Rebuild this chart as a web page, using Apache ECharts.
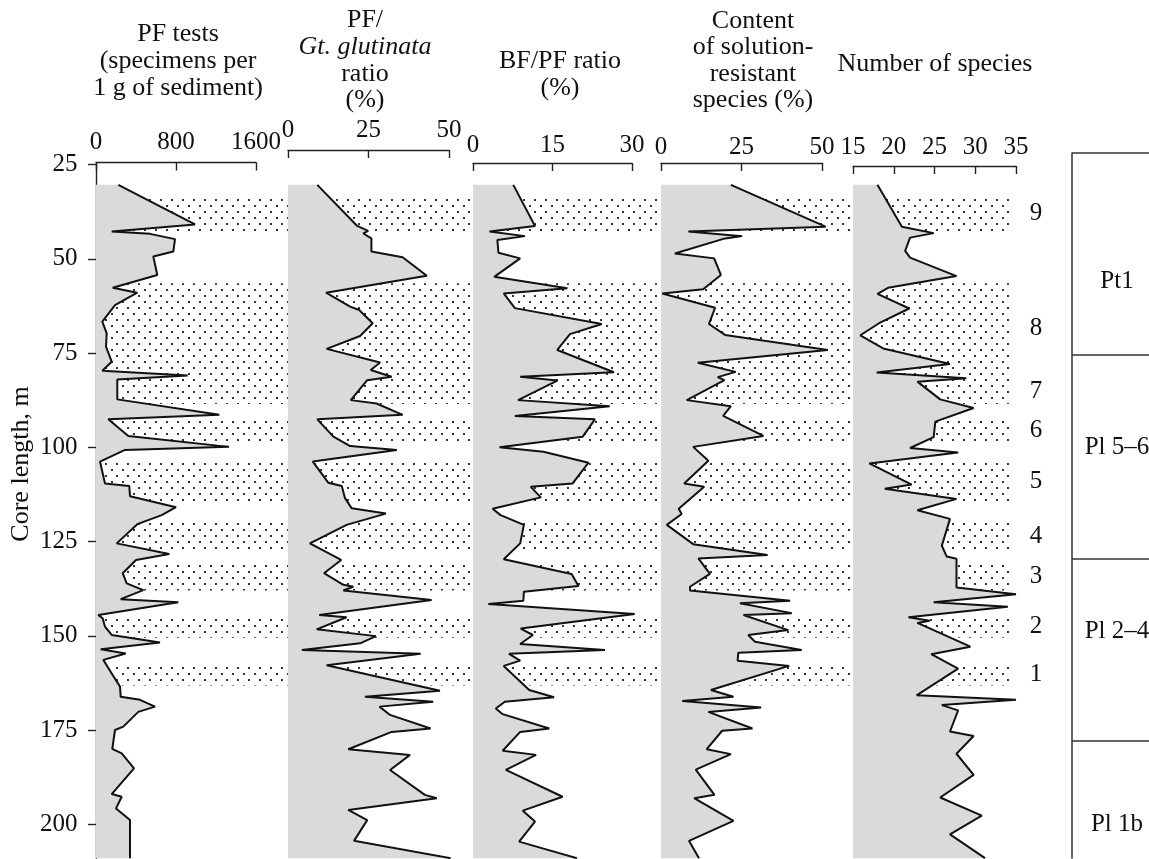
<!DOCTYPE html>
<html><head><meta charset="utf-8">
<script src="https://cdn.jsdelivr.net/npm/echarts@6/dist/echarts.min.js"></script>
<style>html,body{margin:0;padding:0;background:#fff}#c{width:1149px;height:859px}</style>
</head><body><div id="c"></div>
<script>
// ---------------- DATA ----------------
const yTicks = [25, 50, 75, 100, 125, 150, 175, 200];
const depthRange = [25, 209];

const pfTicks = [0, 800, 1600];
const pfDepth = [30.4,40.9,42.8,43.4,44.8,48.1,49.4,54.3,57.7,59.0,62.3,66.7,69.8,73.3,77.3,79.7,81.0,82.0,87.3,91.4,92.6,97.0,99.9,100.7,103.8,109.6,110.3,113.0,115.9,118.0,120.4,125.5,128.3,129.9,133.4,136.1,137.9,140.3,141.1,144.5,145.4,147.6,149.8,151.8,153.6,154.7,156.4,160.0,163.5,166.2,167.0,168.8,170.2,174.1,175.0,180.0,181.2,185.2,192.0,192.7,195.8,198.9,209];
const pfValue = [223,990,157,540,790,773,573,613,167,413,190,63,107,100,157,63,917,213,213,1233,123,323,1330,290,40,90,333,340,800,657,413,207,733,400,267,307,473,247,823,23,67,90,157,640,47,297,73,157,240,247,440,590,423,273,190,163,257,380,157,257,200,340,340];

const gtTicks = [0, 25, 50];
const gtDepth = [30.4,41.3,42.6,43.3,44.6,48.1,49.6,54.5,59.0,62.7,63.6,67.1,70.5,73.9,77.5,79.5,81.3,82.2,87.5,88.4,91.4,92.6,97.2,99.7,100.7,103.8,109.4,110.3,113.5,116.2,117.6,120.6,125.5,129.9,133.4,136.5,137.0,138.0,140.5,144.5,145.1,148.3,150.1,152.0,153.8,154.8,157.8,164.6,166.2,167.5,168.8,171.0,174.6,175.5,180.1,181.6,185.6,192.2,193.1,196.2,198.9,204.4,209];
const gtValue = [9.1,21.5,24.9,23.4,25.9,25.9,35.6,43.1,11.8,19.3,22.1,26.3,22.4,12.0,28.6,25.7,32.2,24.6,19.5,27.5,35.6,9.1,14.1,19.3,33.8,7.7,12.5,16.7,17.7,19.8,30.4,18.2,6.8,16.5,11.2,17.2,20.3,17.2,44.6,9.7,18.2,8.9,27.3,22.4,4.3,41.2,12.0,47.2,23.9,45.1,28.4,31.7,44.3,32.2,18.7,37.9,31.7,42.5,46.2,18.7,24.6,20.5,50.5];

const bpTicks = [0, 15, 30];
const bpDepth = [30.4,41.3,42.8,44.0,45.0,48.4,49.9,54.8,57.8,59.2,63.1,67.3,70.0,74.2,80.1,81.3,82.3,87.5,89.1,91.7,92.6,97.2,100.0,101.2,104.1,109.6,110.5,113.3,116.3,118.0,120.6,125.5,129.7,133.6,136.8,138.3,140.7,141.6,144.2,148.1,149.8,152.2,153.8,154.8,156.6,158.0,164.4,166.3,167.5,169.3,170.8,174.6,175.5,180.5,181.6,185.6,192.7,196.4,199.3,204.6,209];
const bpValue = [7.6,11.7,3.1,9.8,4.6,4.8,8.9,4.0,17.8,5.8,7.9,24.3,18.3,15.9,26.6,8.9,15.9,8.5,25.8,7.9,23.0,20.7,5.0,13.3,21.8,18.8,10.9,12.8,3.7,5.2,9.6,8.9,5.8,18.6,19.9,9.6,9.5,2.9,30.5,9.0,11.3,8.9,24.9,6.8,8.9,5.8,10.6,15.3,6.0,4.3,5.6,14.4,8.9,5.6,11.9,6.2,16.9,9.4,11.7,8.7,19.6];

const srTicks = [0, 25, 50];
const srDepth = [30.4,41.5,42.8,44.0,44.6,48.6,49.9,54.3,58.1,59.2,63.0,67.3,70.2,74.2,77.6,80.0,81.4,82.2,87.5,89.1,91.7,97.0,99.9,103.6,109.6,110.5,116.3,117.7,120.6,125.7,128.6,129.5,133.6,137.0,138.0,140.7,141.4,144.0,144.5,148.5,149.8,151.6,153.8,154.5,156.6,158.0,164.4,166.2,167.3,169.0,170.2,174.6,175.2,180.1,181.4,185.5,192.2,193.1,199.1,204.4,209];
const srValue = [21.7,51.1,8.5,25.2,19.9,4.3,16.5,18.6,13.1,0.4,16.8,14.9,19.9,51.8,11.4,23.2,17.6,19.7,8.0,21.7,19.3,31.8,10.0,14.7,7.2,13.4,5.5,6.4,1.8,10.0,33.1,11.6,15.2,9.0,9.0,40.1,24.5,40.6,25.6,39.5,27.1,29.2,43.7,24.0,23.8,39.8,15.5,22.5,6.6,31.1,14.7,28.4,19.0,14.2,21.7,10.8,16.6,10.3,22.5,8.7,11.8];

const spTicks = [15, 20, 25, 30, 35];
const spDepth = [30.4,41.5,43.2,44.4,47.9,49.7,54.6,57.7,59.3,63.2,67.1,70.3,73.8,77.9,80.2,81.7,82.6,87.3,89.6,93.2,97.3,100.2,101.4,104.3,109.9,111.0,113.7,116.7,119.0,126.1,129.0,129.6,137.2,139.0,141.1,142.3,145.1,146.0,146.6,152.9,154.9,158.7,165.8,167.0,168.4,169.8,175.4,176.6,181.3,186.9,192.9,197.7,202.7,209];
const spValue = [18.0,21.0,24.9,22.0,21.4,22.0,27.7,19.3,18.0,21.9,18.2,15.9,18.7,26.9,17.9,28.9,22.9,25.7,29.8,25.1,24.9,22.0,27.9,17.0,22.2,18.9,27.7,22.9,26.9,25.9,26.5,27.7,27.7,35.0,24.9,34.0,21.8,24.4,22.9,29.4,24.6,27.9,22.8,35.0,25.9,27.9,26.9,29.8,27.7,29.8,25.7,30.8,26.9,31.2];

// stippled intervals (depth from, to) and their numbers
const bands = [[33.1,42.8],[56.5,88.5],[92.2,99.0],[103.4,114.8],[119.8,127.5],[130.7,138.0],[144.5,150.5],[157.2,163.2]];
const bandNames = ['9','8','7','6','5','4','3','2','1'];
const bandNameDepth = [38, 68.6, 85.3, 95.6, 109, 123.6, 134.3, 147.5, 160.2];

// zones
const zoneBounds = [22, 75.5, 129.6, 177.8];
const zoneNames = ['Pt1', 'Pl 5–6', 'Pl 2–4', 'Pl 1b'];
const zoneNameDepth = [56, 100, 149, 200];

// ---------------- LAYOUT ----------------
const FONT = '"Liberation Serif", "Times New Roman", serif';
const TXT = '#111';
const Y0 = 164.5, PX = 3.77;
const H = (depthRange[1] - depthRange[0]) * PX;

const pc = document.createElement('canvas');
pc.width = 11; pc.height = 12;
const g = pc.getContext('2d');
g.fillStyle = '#333';
g.fillRect(1, 1, 2, 2);
g.fillRect(6, 7, 2, 2);

const panels = [
  {d: pfDepth, v: pfValue, t: pfTicks, left: 96, width: 160, offset: 2, margin: 8},
  {d: gtDepth, v: gtValue, t: gtTicks, left: 288, width: 161, offset: 14.5, margin: 7.5},
  {d: bpDepth, v: bpValue, t: bpTicks, left: 473, width: 159, offset: 1.5, margin: 5.5},
  {d: srDepth, v: srValue, t: srTicks, left: 661, width: 161, offset: 1.5, margin: 3.5},
  {d: spDepth, v: spValue, t: spTicks, left: 853, width: 163, offset: -1.5, margin: 6.5}
];

const grid = [{left: 96, top: Y0, width: 964, height: H}];
const xAxis = [{gridIndex: 0, type: 'value', min: 0, max: 964, show: false}];
const yAxis = [{
  gridIndex: 0, type: 'value', min: depthRange[0], max: depthRange[1], inverse: true, interval: 25,
  axisLine: {show: true, lineStyle: {color: '#222', width: 1.4}},
  axisTick: {show: true, length: 8, customValues: yTicks, lineStyle: {color: '#222', width: 1.4}},
  axisLabel: {margin: 18.5, fontSize: 25, fontFamily: FONT, color: TXT, customValues: yTicks,
    formatter: v => yTicks.indexOf(v) >= 0 ? String(v) : ''},
  splitLine: {show: false}
}];
const series = [{
  type: 'scatter', xAxisIndex: 0, yAxisIndex: 0, z: 1, silent: true, symbolSize: 0,
  itemStyle: {opacity: 1},
  data: bandNames.map((n, i) => ({name: n, value: [940, bandNameDepth[i]]})),
  label: {show: true, position: 'inside', formatter: '{b}', fontSize: 25, fontFamily: FONT, color: TXT, opacity: 1},
  markArea: {
    silent: true,
    itemStyle: {color: {image: pc, repeat: 'repeat'}, opacity: 1},
    data: bands.map(b => [{xAxis: 0, yAxis: b[0]}, {xAxis: 914, yAxis: b[1]}])
  }
}];

panels.forEach((p, i) => {
  const gi = i + 1;
  grid.push({left: p.left, top: Y0, width: p.width, height: H});
  xAxis.push({
    gridIndex: gi, type: 'value', position: 'top',
    min: p.t[0], max: p.t[p.t.length - 1], interval: p.t[1] - p.t[0], offset: p.offset,
    axisLine: {show: true, lineStyle: {color: '#222', width: 1.4}},
    axisTick: {show: true, inside: true, length: 8, lineStyle: {color: '#222', width: 1.4}},
    axisLabel: {margin: p.margin, fontSize: 25, fontFamily: FONT, color: TXT, formatter: v => String(v)},
    splitLine: {show: false}
  });
  yAxis.push({gridIndex: gi, type: 'time', min: depthRange[0], max: depthRange[1], inverse: true, show: false});
  series.push({
    type: 'line', xAxisIndex: gi, yAxisIndex: gi, z: 3, clip: false,
    symbol: 'none', showSymbol: false, silent: true,
    lineStyle: {color: '#111', width: 2},
    areaStyle: {color: '#d9dadc', opacity: 1, origin: 'start'},
    data: p.d.map((d, k) => [p.v[k], d])
  });
});

// zone column (grid is 77 px wide: up to the right edge)
grid.push({left: 1072, top: 153, width: 77, height: (depthRange[1] - zoneBounds[0]) * PX});
xAxis.push({gridIndex: 6, type: 'value', min: 0, max: 77, show: false});
yAxis.push({gridIndex: 6, type: 'value', min: zoneBounds[0], max: depthRange[1], inverse: true,
  axisLine: {show: true, lineStyle: {color: '#333', width: 1.5}},
  axisTick: {show: false}, axisLabel: {show: false}, splitLine: {show: false}});
series.push({
  type: 'scatter', xAxisIndex: 6, yAxisIndex: 6, silent: true, symbolSize: 0,
  itemStyle: {opacity: 1},
  data: zoneNames.map((n, i) => ({name: n, value: [45, zoneNameDepth[i]]})),
  label: {show: true, position: 'inside', formatter: '{b}', fontSize: 25, fontFamily: FONT, color: TXT, opacity: 1},
  labelLayout: {hideOverlap: false},
  markLine: {silent: true, symbol: ['none', 'none'], label: {show: false},
    lineStyle: {color: '#333', width: 1.5, type: 'solid'},
    data: zoneBounds.map(b => ({yAxis: b}))}
});

function t(text, x, y, italic) {
  return {type: 'text', x: x, y: y, silent: true,
    style: {text: text, fill: TXT, font: (italic ? 'italic ' : '') + '26px ' + FONT, textAlign: 'center', textVerticalAlign: 'middle'}};
}
const graphic = [
  t('PF tests', 178, 34), t('(specimens per', 178, 61), t('1 g of sediment)', 178, 88),
  t('PF/', 365, 20), t('Gt. glutinata', 365, 47, true), t('ratio', 365, 74), t('(%)', 365, 100),
  t('BF/PF ratio', 560, 61), t('(%)', 560, 88),
  t('Content', 753, 21), t('of solution-', 753, 47.5), t('resistant', 753, 74), t('species (%)', 753, 100),
  t('Number of species', 935, 64),
  {type: 'text', x: 21, y: 464, rotation: Math.PI / 2, silent: true,
   style: {text: 'Core length, m', fill: TXT, font: '26px ' + FONT, textAlign: 'center', textVerticalAlign: 'middle'}}
];

const chart = echarts.init(document.getElementById('c'), null, {renderer: 'canvas'});
chart.setOption({animation: false, backgroundColor: '#fff', grid, xAxis, yAxis, series, graphic});
</script></body></html>
